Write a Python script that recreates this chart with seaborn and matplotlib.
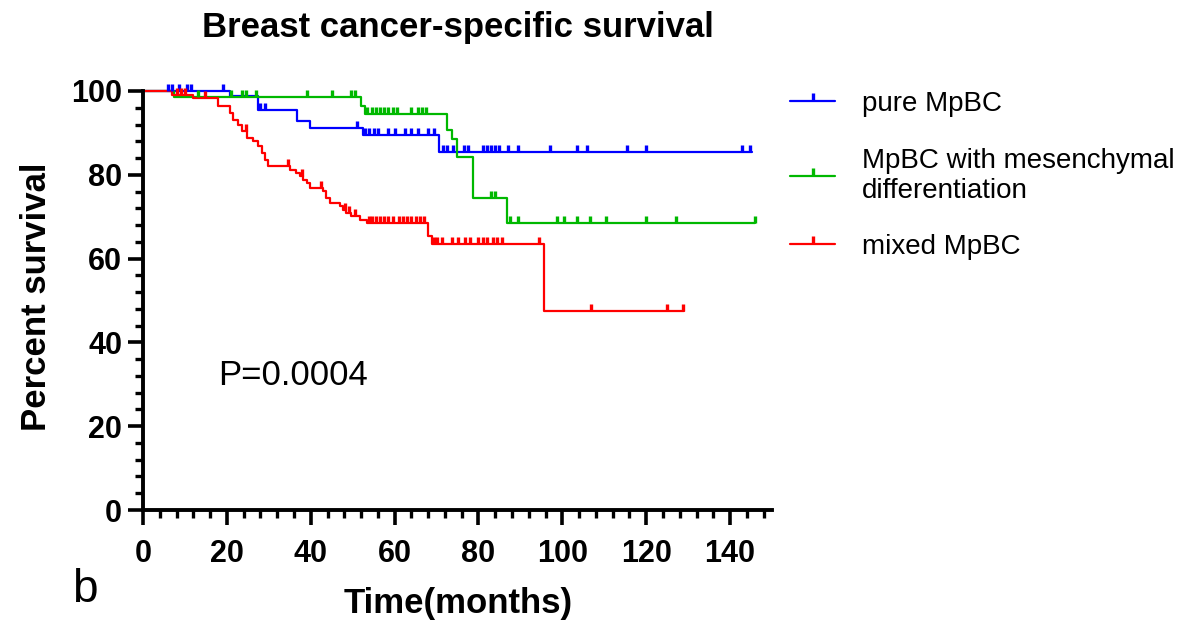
import numpy as np
import pandas as pd
import matplotlib
matplotlib.use("Agg")
import matplotlib.pyplot as plt
from matplotlib.lines import Line2D
from matplotlib.ticker import MultipleLocator
import seaborn as sns

sns.set_theme(style="ticks")
plt.rcParams['font.family'] = ['Liberation Sans', 'DejaVu Sans']
plt.rcParams.update({"text.color": "black", "axes.labelcolor": "black",
                     "xtick.color": "black", "ytick.color": "black",
                     "axes.edgecolor": "black"})

# ---------------- data ----------------
groups = ["pure MpBC", "MpBC with mesenchymal\ndifferentiation", "mixed MpBC"]
colors = ["#0000FF", "#00B800", "#FF0000"]

pure_times = [0, 20.7, 27.4, 36.7, 39.8, 52.4, 70.7]
pure_surv = [100, 98.8, 95.5, 92.8, 91.2, 89.5, 85.4]
pure_end = 145.3
pure_censor = [6, 7, 8.5, 10.5, 11.5, 19, 28, 29, 51, 53, 54, 55, 56, 58.5, 60,
               62.5, 64, 65.5, 68, 69.5, 71.5, 72.5, 74, 76.5, 77.5, 81, 82, 83,
               84, 85, 87, 89.5, 97, 103.5, 106, 115.5, 120, 142.8, 144.8]

mes_times = [0, 7.5, 52.0, 53.0, 72.6, 73.6, 74.8, 78.6, 86.7]
mes_surv = [100, 98.6, 96.5, 94.5, 90.6, 88.6, 84.2, 74.5, 68.4]
mes_end = 146
mes_censor = [13, 21, 23.5, 24.5, 27, 39, 45, 49.5, 50.5, 53.5, 54.5, 55.5, 56.5,
              57.5, 58.5, 59.5, 60.5, 64, 65.5, 66.5, 67.5, 83, 84, 87.5, 89.5,
              98.8, 100.5, 103.5, 106.5, 110.3, 120, 127, 146]

mixed_times = [0, 7, 12, 17.9, 20.7, 21.5, 22.7, 23.5, 24.7, 26.3, 27.5, 28.3,
               29.0, 29.8, 35.0, 36.6, 37.4, 38.2, 39.0, 39.8, 42.9, 43.7, 44.5,
               46.9, 47.7, 48.5, 49.7, 51.7, 53.3, 68.0, 69.0, 95.7]
mixed_surv = [100, 99.1, 98.3, 96.4, 94.7, 93.0, 91.9, 90.4, 88.8, 88.0, 86.9,
              85.2, 83.5, 82.1, 81.1, 80.4, 79.7, 78.8, 78.0, 76.8, 76.1, 74.5,
              73.3, 72.6, 71.6, 70.9, 70.2, 69.2, 68.5, 65.3, 63.4, 47.6]
mixed_end = 129
mixed_censor = [8, 9, 10, 14.8, 24.5, 34.6, 38, 42.5, 48.2, 49.2, 50.5, 53.8,
                54.5, 55.5, 56.5, 57.5, 58.5, 59.5, 61, 62, 63, 64, 65, 66, 67,
                69.4, 70, 71.4, 73.8, 75, 76.8, 78, 80, 81, 82, 83.5, 84.5, 85.5,
                94.5, 106.8, 124.9, 128.7]

x_ticks = [0, 20, 40, 60, 80, 100, 120, 140]
y_ticks = [0, 20, 40, 60, 80, 100]
p_text = "P=0.0004"

series = [
    (pure_times, pure_surv, pure_end, pure_censor),
    (mes_times, mes_surv, mes_end, mes_censor),
    (mixed_times, mixed_surv, mixed_end, mixed_censor),
]

# ---------------- figure ----------------
W, H = 1199, 623
fig = plt.figure(figsize=(W / 100, H / 100), dpi=100)
ax = fig.add_axes([143 / W, 1 - 510 / H, (772 - 143) / W, (510 - 91) / H])

for (t, s, end, cens), g, c in zip(series, groups, colors):
    lt = list(t) + [end]
    ls = list(s) + [s[-1]]
    df = pd.DataFrame({"time": lt, "surv": ls})
    sns.lineplot(data=df, x="time", y="surv", drawstyle="steps-post",
                 estimator=None, sort=False, color=c, linewidth=1.6,
                 ax=ax, clip_on=False, legend=False)
    idx = np.searchsorted(np.array(t), np.array(cens), side="right") - 1
    cy = np.array(s)[idx]
    dfc = pd.DataFrame({"time": cens, "surv": cy})
    sns.scatterplot(data=dfc, x="time", y="surv", marker=2, s=28,
                    color=c, linewidth=2.4, ax=ax, clip_on=False, legend=False,
                    zorder=3)

ax.set_xlim(0, 150)
ax.set_ylim(0, 100)
ax.set_xticks(x_ticks)
ax.set_yticks(y_ticks)
ax.xaxis.set_minor_locator(MultipleLocator(4))
ax.yaxis.set_minor_locator(MultipleLocator(4))
sns.despine(ax=ax)
for sp in ["left", "bottom"]:
    ax.spines[sp].set_linewidth(2.8)
ax.tick_params(which="major", length=11, width=2.6, labelsize=22, pad=4)
ax.tick_params(which="minor", length=5.5, width=2.4)
ax.tick_params(axis="x", which="major", pad=10)
for lab in ax.get_xticklabels() + ax.get_yticklabels():
    lab.set_fontweight("bold")
ax.set_xlabel("")
ax.set_ylabel("")

fig.text(0.382, 1 - 28 / H, "Breast cancer-specific survival", ha="center",
         va="center", fontsize=25, fontweight="bold")
fig.text(0.382, 1 - 604 / H, "Time(months)", ha="center", va="center",
         fontsize=25, fontweight="bold")
fig.text(37 / W, 1 - 297 / H, "Percent survival", ha="center", va="center",
         rotation=90, fontsize=25, fontweight="bold")
fig.text(85 / W, 1 - 590 / H, "b", ha="center", va="center", fontsize=33)
ax.text(17.9, 32.2, p_text, ha="left", va="center", fontsize=25)

handles = [Line2D([0], [0], color=c, linewidth=1.6, marker=2, markersize=6,
                  markeredgewidth=2.4) for c in colors]
fig.legend(handles, groups, loc="upper left",
           bbox_to_anchor=(790 / W, 1 - 91 / H), frameon=False, fontsize=20,
           handlelength=1.62, handletextpad=0.97, labelspacing=1.1,
           numpoints=1, borderaxespad=0, borderpad=0)

fig.savefig("out.png", dpi=100)
